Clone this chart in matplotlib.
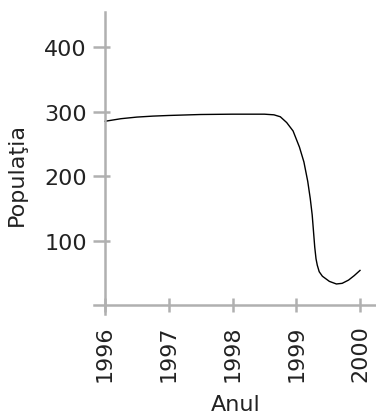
import matplotlib
matplotlib.use("Agg")
import matplotlib.pyplot as plt

# valori
ani = [1996.00, 1996.25, 1996.50, 1996.75, 1997.00, 1997.50, 1998.00, 1998.50,
       1998.65, 1998.75, 1998.85, 1998.95, 1999.05, 1999.12, 1999.18, 1999.22,
       1999.25, 1999.27, 1999.29, 1999.31, 1999.33, 1999.36, 1999.41, 1999.52,
       1999.63, 1999.72, 1999.82, 1999.91, 2000.00]
populatia = [285, 289, 291.5, 293, 294, 295.5, 296, 296,
             295, 292, 283, 270, 245, 222, 192, 165,
             140, 115, 90, 72, 62, 52, 45, 37,
             33, 34, 39, 46, 54]

xticks = [1996, 1997, 1998, 1999, 2000]
yticks = [100, 200, 300, 400]

W, H = 376, 414
fs = 16
fig = plt.figure(figsize=(W / 100, H / 100), dpi=100)
ax = fig.add_axes([94 / W, 1 - 315 / H, 282 / W, (315 - 13.3) / H])

ax.plot(ani, populatia, color="black", lw=1.0)

ax.set_xlim(1995.827, 2000.251)
ax.set_ylim(-13.5, 453.8)

gri = "#b0b0b0"
for s in ["top", "right"]:
    ax.spines[s].set_visible(False)
ax.spines["left"].set_position(("data", 1996))
ax.spines["bottom"].set_position(("data", 0))
for s in ["left", "bottom"]:
    ax.spines[s].set_color(gri)
    ax.spines[s].set_linewidth(1.8)

ax.set_xticks(xticks)
ax.set_xticklabels([str(a) for a in xticks], rotation=90)
ax.set_yticks(yticks)
ax.set_yticks(yticks, minor=True)
ax.yaxis.remove_overlapping_locs = False

ax.tick_params(axis="x", direction="inout", length=9.5, width=1.8, color=gri,
               labelsize=fs, labelcolor="#222222", pad=9)
ax.tick_params(axis="y", which="major", direction="out", length=8.5, width=1.8,
               color=gri, labelsize=fs, labelcolor="#222222", pad=4.5)
ax.tick_params(axis="y", which="minor", direction="in", length=3.5, width=1.8,
               color=gri, labelleft=False)

fig.text(17 / W, 1 - 175 / H, "Populaţia", rotation=90, ha="center", va="center",
         fontsize=fs, color="#222222")
fig.text(236 / W, 1 - 405 / H, "Anul", ha="center", va="center",
         fontsize=fs, color="#222222")

fig.savefig("out.png", dpi=100)
